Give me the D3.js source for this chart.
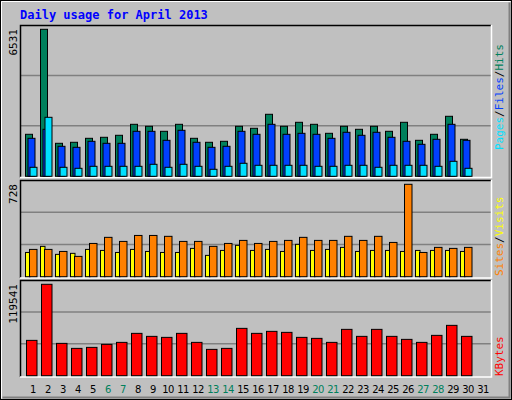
<!DOCTYPE html>
<html><head><meta charset="utf-8">
<script src="https://cdn.jsdelivr.net/npm/d3@7"></script>
<style>body{margin:0;background:#fff}</style>
</head><body>
<script>
const days = d3.range(1, 31);
const hits = [1866,6531,1466,1511,1688,1733,1822,2310,2222,1999,2310,1688,1511,1555,2222,2133,2755,2222,2399,2310,1910,2222,2088,2222,1999,2399,1599,1866,2666,1644];
const files = [1688,2088,1333,1288,1555,1466,1466,1999,1999,1599,2044,1511,1288,1333,1999,1866,2310,1866,1910,1866,1688,1955,1822,1955,1733,1555,1422,1644,2310,1599];
const pages = [400,2621,400,355,444,444,444,444,533,400,533,444,311,444,578,489,489,489,489,444,444,489,489,400,489,489,489,444,666,355];
const visits = [191,239,176,184,215,207,191,215,199,191,191,223,168,207,247,207,215,199,255,207,215,231,199,207,207,199,207,207,207,199];
const sites = [215,215,199,160,262,310,278,325,325,318,278,278,239,262,286,262,278,286,310,286,286,318,286,318,270,728,191,231,223,231];
const kbytes = [46208,119541,42281,35736,37045,40972,43590,55370,51444,50135,55370,43590,34427,35736,61916,55370,57989,56680,50135,48826,43590,60607,51444,60607,51444,47517,43590,52753,65843,51444];
const xLabels = d3.range(1, 32);
const weekend = [6,7,13,14,20,21,27,28];

const W = 512, H = 400;
const svg = d3.select("body").append("svg").attr("width", W).attr("height", H)
  .style("font-family", "'DejaVu Sans Mono', monospace");

// frame
svg.append("rect").attr("x",0).attr("y",0).attr("width",W).attr("height",H).attr("fill","#c0c0c0");
svg.append("rect").attr("x",0.5).attr("y",0.5).attr("width",W-1).attr("height",H-1).attr("fill","none").attr("stroke","#000");
svg.append("path").attr("d","M1.5,398.5V1.5H510.5").attr("fill","none").attr("stroke","#fff");
svg.append("path").attr("d","M2.5,397.5H509.5V2.5").attr("fill","none").attr("stroke","#808080").attr("stroke-width",2);

svg.append("text").attr("x",20).attr("y",19).attr("fill","#0000ff").attr("font-weight","bold")
  .attr("font-size",12).text("Daily usage for April 2013");

const x = d3.scaleLinear().domain([1, 31]).range([25, 475]);

const panels = [
  {top:25, bottom:177.5, base:176.3, maxY:29.3, max:6531},
  {top:180, bottom:278, base:276.7, maxY:184.3, max:728},
  {top:280, bottom:377, base:375.7, maxY:284.3, max:119541}
];
panels.forEach(p => {
  p.y = d3.scaleLinear().domain([0, p.max]).range([p.base, p.maxY]);
  svg.append("rect").attr("x",20).attr("y",p.top).attr("width",471).attr("height",p.bottom-p.top).attr("fill","#c0c0c0");
  const h = p.base - p.top;
  [1/3, 2/3].forEach(f => svg.append("line").attr("x1",20).attr("x2",491)
    .attr("y1",p.base - h*f).attr("y2",p.base - h*f).attr("stroke","#808080").attr("stroke-width",1.5));
  svg.append("path").attr("d",`M20.5,${p.bottom}V${p.top+0.5}H491`).attr("fill","none").attr("stroke","#000").attr("stroke-width",1.5);
  svg.append("path").attr("d",`M20,${p.bottom}H491.5V${p.top}`).attr("fill","none").attr("stroke","#fff").attr("stroke-width",1.5);
  svg.append("text").attr("transform",`translate(17,${p.top+4}) rotate(-90)`).attr("text-anchor","end")
    .attr("font-size",11).attr("fill","#000").text(p.max);
});

function bars(vals, p, dx, w, color) {
  svg.append("g").selectAll("rect").data(vals).join("rect")
    .attr("x", (d,i) => x(days[i]) + dx + 0.5)
    .attr("y", d => p.y(d))
    .attr("width", w).attr("height", d => p.base - p.y(d))
    .attr("fill", color).attr("stroke","#000").attr("stroke-width",1);
}
bars(hits, panels[0], 0, 7, "#00805c");
bars(files, panels[0], 2.5, 7, "#0040ff");
bars(pages, panels[0], 4.5, 7, "#00e0ff");
bars(visits, panels[1], 0, 4.5, "#ffff00");
bars(sites, panels[1], 4, 7.5, "#ff8000");
bars(kbytes, panels[2], 1, 10.5, "#ff0000");

svg.append("g").selectAll("text").data(xLabels).join("text")
  .attr("x", d => x(d) + 8).attr("y", 393).attr("text-anchor","middle").attr("font-size",10)
  .attr("letter-spacing",-0.6)
  .attr("font-family","'DejaVu Sans', sans-serif")
  .attr("fill", d => weekend.includes(d) ? "#00805c" : "#000").text(d => d);

function sideLabel(y0, parts) {
  const t = svg.append("text").attr("transform",`translate(503,${y0}) rotate(-90)`).attr("font-size",11);
  parts.forEach(([s,c]) => t.append("tspan").attr("fill",c).text(s));
}
sideLabel(150, [["Pages","#00e0ff"],["/","#000"],["Files","#0040ff"],["/","#000"],["Hits","#00805c"]]);
sideLabel(276, [["Sites","#ff8000"],["/","#000"],["Visits","#ffff00"]]);
sideLabel(376, [["KBytes","#ff0000"]]);
</script>
</body></html>
